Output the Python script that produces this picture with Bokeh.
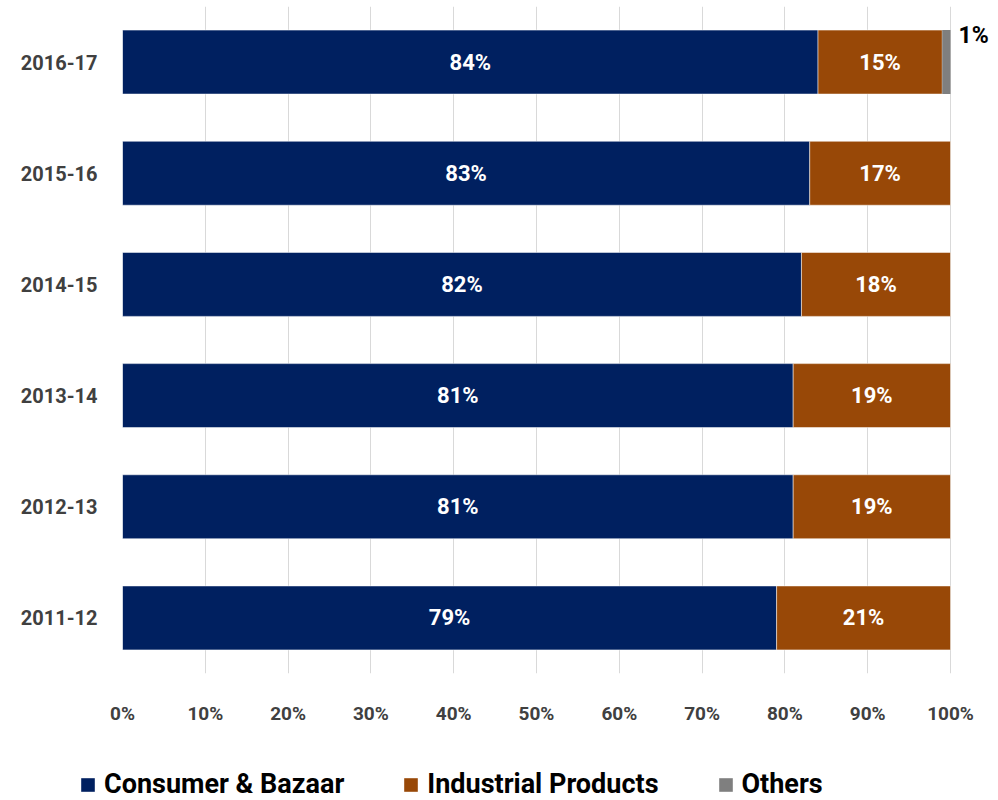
from bokeh.plotting import figure
from bokeh.layouts import column
from bokeh.models import ColumnDataSource, FactorRange, Range1d, Legend, LegendItem, FixedTicker, CustomJSTickFormatter
from bokeh.core.properties import value
from bokeh.embed import file_html
from bokeh.resources import INLINE

years = ["2011-12", "2012-13", "2013-14", "2014-15", "2015-16", "2016-17"]
consumer = [79, 81, 81, 82, 83, 84]
industrial = [21, 19, 19, 18, 17, 15]
others = [0, 0, 0, 0, 0, 1]
series_names = ["Consumer & Bazaar", "Industrial Products", "Others"]
colors = ["#002060", "#984807", "#7f7f7f"]
x_ticks = [0, 10, 20, 30, 40, 50, 60, 70, 80, 90, 100]

FONT = "Roboto"

# frame spans to the right edge so the outside "1%" label is not clipped;
# 100% sits at 828 px of the 876 px frame
x_end = 100 * 876 / 828

p = figure(width=998, height=730, y_range=FactorRange(*years, range_padding=0),
           x_range=Range1d(0, x_end), output_backend="svg", toolbar_location=None,
           min_border_left=122, min_border_right=0, min_border_top=6, min_border_bottom=57)
p.outline_line_color = None
p.background_fill_color = "white"
p.border_fill_color = "white"

i_end = [a + b for a, b in zip(consumer, industrial)]
o_end = [a + b for a, b in zip(i_end, others)]

src = ColumnDataSource(dict(y=years, c0=[0]*6, c1=consumer, i0=consumer, i1=i_end, o0=i_end, o1=o_end,
                            cm=[v / 2 for v in consumer],
                            im=[a + b / 2 for a, b in zip(consumer, industrial)],
                            cl=[f"{v}%" for v in consumer],
                            il=[f"{v}%" for v in industrial]))

h = 0.575
p.hbar(y="y", left="c0", right="c1", height=h, source=src, fill_color=colors[0], line_color="white", line_width=0.5)
p.hbar(y="y", left="i0", right="i1", height=h, source=src, fill_color=colors[1], line_color="white", line_width=0.5)
p.hbar(y="y", left="o0", right="o1", height=h, source=src, fill_color=colors[2], line_color=None)

p.text(x="cm", y="y", text="cl", source=src, text_color="white", text_font=value(FONT),
       text_font_style="bold", text_font_size="22px", text_align="center", text_baseline="middle")
p.text(x="im", y="y", text="il", source=src, text_color="white", text_font=value(FONT),
       text_font_style="bold", text_font_size="22px", text_align="center", text_baseline="middle")

osrc = ColumnDataSource(dict(x=[o_end[i] for i in range(6) if others[i] > 0],
                             y=[years[i] for i in range(6) if others[i] > 0],
                             t=[f"{others[i]}%" for i in range(6) if others[i] > 0]))
p.text(x="x", y="y", text="t", source=osrc, text_color="black", text_font=value(FONT),
       text_font_style="bold", text_font_size="23px", text_align="left", text_baseline="middle",
       x_offset=8, y_offset=-27)

p.xaxis.ticker = FixedTicker(ticks=x_ticks)
p.xaxis.formatter = CustomJSTickFormatter(code="return tick + '%';")
p.xaxis.axis_line_color = None
p.xaxis.major_tick_line_color = None
p.xaxis.minor_tick_line_color = None
p.xaxis.major_tick_out = 0
p.xaxis.minor_tick_out = 0
p.xaxis.major_label_standoff = 28
p.xaxis.major_label_text_font = FONT
p.xaxis.major_label_text_font_style = "bold"
p.xaxis.major_label_text_font_size = "19px"
p.xaxis.major_label_text_color = "#404040"

p.yaxis.axis_line_color = None
p.yaxis.major_tick_line_color = None
p.yaxis.minor_tick_line_color = None
p.yaxis.major_tick_out = 0
p.yaxis.minor_tick_out = 0
p.yaxis.major_label_standoff = 25
p.yaxis.major_label_text_font = FONT
p.yaxis.major_label_text_font_style = "bold"
p.yaxis.major_label_text_font_size = "20px"
p.yaxis.major_label_text_color = "#404040"

p.ygrid.grid_line_color = None
p.xgrid.grid_line_color = "#d9d9d9"
p.xgrid.grid_line_width = 1

# legend strip below the chart
lg = figure(width=998, height=70, x_range=Range1d(0, 1), y_range=Range1d(0, 1),
            output_backend="svg", toolbar_location=None,
            x_axis_location=None, y_axis_location=None,
            min_border_left=0, min_border_right=0, min_border_top=0, min_border_bottom=0)
lg.outline_line_color = None
lg.xgrid.visible = False
lg.ygrid.visible = False
frame_free = "frame_align" in lg.properties()
if frame_free:
    lg.frame_align = False
    p.frame_align = False
legend_x = 79 if frame_free else 79 - 122

# one off-range swatch per series, only so the legend draws its square
lr = [lg.hbar(y=[-5], left=[0], right=[1], height=1, fill_color=c, line_color=None) for c in colors]

legend = Legend(items=[LegendItem(label=n, renderers=[r]) for n, r in zip(series_names, lr)],
                orientation="horizontal", location=(legend_x, 0),
                label_text_font=FONT, label_text_font_style="bold", label_text_font_size="27px",
                label_text_color="black", glyph_width=17, glyph_height=17, label_standoff=8,
                spacing=58, padding=0, margin=0, border_line_color=None, background_fill_alpha=0)
lg.add_layout(legend, "center")

layout = column(p, lg, spacing=0)
open("out.html", "w").write(file_html(layout, INLINE))
